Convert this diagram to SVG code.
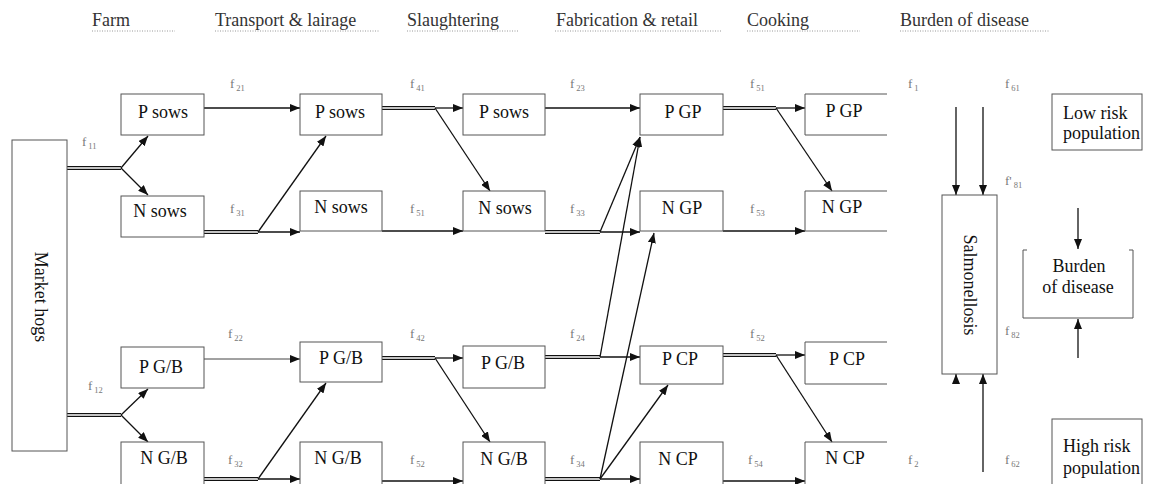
<svg xmlns="http://www.w3.org/2000/svg" width="1157" height="484" viewBox="0 0 1157 484">
  <style>
    .box { fill: #fff; stroke: #555; stroke-width: 1; }
    .open { fill: none; stroke: #555; stroke-width: 1; }
    .t { font-family: "Liberation Serif", "Times New Roman", serif; font-size: 18px; fill: #111; }
    .c { text-anchor: middle; }
    .hdr { font-family: "Liberation Serif", "Times New Roman", serif; font-size: 18px; fill: #333; }
    .rule { stroke: #999; stroke-width: 1; stroke-dasharray: 1 1.5; }
    .f { font-family: "Liberation Serif", "Times New Roman", serif; font-size: 13px; fill: #777; }
    .s { font-size: 8.5px; }
    .arr { fill: none; stroke: #111; stroke-width: 1.3; marker-end: url(#ah); }
    .dbl { fill: none; stroke: #111; stroke-width: 4.2; }
    .dblw { fill: none; stroke: #fff; stroke-width: 1.4; }
  </style>
  <defs>
    <marker id="ah" markerUnits="userSpaceOnUse" markerWidth="10" markerHeight="8" refX="10" refY="4" orient="auto">
      <path d="M0,0 L10,4 L0,8 z" fill="#111"/>
    </marker>
  </defs>
  <rect width="1157" height="484" fill="#fff"/>

  <!-- stage headers -->
  <g id="headers">
    <text class="hdr" x="92" y="26">Farm</text>
    <line class="rule" x1="92" y1="31" x2="175" y2="31"/>
    <text class="hdr" x="215" y="26">Transport &amp; lairage</text>
    <line class="rule" x1="215" y1="31" x2="380" y2="31"/>
    <text class="hdr" x="407" y="26">Slaughtering</text>
    <line class="rule" x1="407" y1="31" x2="518" y2="31"/>
    <text class="hdr" x="556" y="26">Fabrication &amp; retail</text>
    <line class="rule" x1="555" y1="31" x2="722" y2="31"/>
    <text class="hdr" x="747" y="26">Cooking</text>
    <line class="rule" x1="747" y1="31" x2="860" y2="31"/>
    <text class="hdr" x="900" y="26">Burden of disease</text>
    <line class="rule" x1="900" y1="31" x2="1050" y2="31"/>
  </g>

  <!-- connectors -->
  <g id="connectors">
    <!-- double-line trunks: black body, white core -->
    <g class="dbl">
      <path d="M67,168 H121 M67,415 H121"/>
      <path d="M204,232 H258 M204,479 H258"/>
      <path d="M382,108 H435 M382,358 H435"/>
      <path d="M545,232 H600 M545,357 H600 M545,479 H600"/>
      <path d="M723,108 H776 M723,355 H776"/>
    </g>
    <g class="dblw">
      <path d="M67,168 H121 M67,415 H121"/>
      <path d="M204,232 H258 M204,479 H258"/>
      <path d="M382,108 H435 M382,358 H435"/>
      <path d="M545,232 H600 M545,357 H600 M545,479 H600"/>
      <path d="M723,108 H776 M723,355 H776"/>
    </g>

    <!-- farm -->
    <line class="arr" x1="121" y1="168" x2="148" y2="136"/>
    <line class="arr" x1="121" y1="168" x2="148" y2="195"/>
    <line class="arr" x1="121" y1="415" x2="148" y2="389"/>
    <line class="arr" x1="121" y1="415" x2="148" y2="442"/>

    <!-- transport & lairage -->
    <line class="arr" x1="204" y1="108" x2="300" y2="108"/>
    <line class="arr" x1="258" y1="232" x2="300" y2="232"/>
    <line class="arr" x1="258" y1="232" x2="326" y2="136"/>
    <line class="arr" x1="204" y1="359" x2="300" y2="359" style="stroke:#444;stroke-width:1"/>
    <line class="arr" x1="258" y1="479" x2="300" y2="479"/>
    <line class="arr" x1="258" y1="479" x2="326" y2="383"/>

    <!-- slaughtering -->
    <line class="arr" x1="435" y1="108" x2="463" y2="108"/>
    <line class="arr" x1="435" y1="108" x2="490" y2="191"/>
    <line class="arr" x1="382" y1="231" x2="463" y2="231"/>
    <line class="arr" x1="435" y1="358" x2="463" y2="358"/>
    <line class="arr" x1="435" y1="358" x2="490" y2="442"/>
    <line class="arr" x1="382" y1="481" x2="463" y2="481"/>

    <!-- fabrication & retail -->
    <line class="arr" x1="545" y1="108" x2="640" y2="108"/>
    <line class="arr" x1="600" y1="232" x2="640" y2="232"/>
    <line class="arr" x1="600" y1="232" x2="640" y2="137"/>
    <line class="arr" x1="600" y1="357" x2="640" y2="357"/>
    <line class="arr" x1="600" y1="357" x2="640" y2="137"/>
    <line class="arr" x1="600" y1="479" x2="640" y2="479"/>
    <line class="arr" x1="600" y1="479" x2="654" y2="233"/>
    <line class="arr" x1="600" y1="479" x2="668" y2="385"/>

    <!-- cooking -->
    <line class="arr" x1="776" y1="108" x2="805" y2="108"/>
    <line class="arr" x1="776" y1="108" x2="832" y2="191"/>
    <line class="arr" x1="723" y1="231" x2="805" y2="231"/>
    <line class="arr" x1="776" y1="355" x2="805" y2="355"/>
    <line class="arr" x1="776" y1="355" x2="832" y2="442"/>
    <line class="arr" x1="723" y1="481" x2="805" y2="481"/>

    <!-- burden of disease -->
    <line class="arr" x1="956" y1="107" x2="956" y2="195"/>
    <line class="arr" x1="983" y1="107" x2="983" y2="195"/>
    <line class="arr" x1="983" y1="472" x2="983" y2="374"/>
    <line class="arr" x1="956" y1="383" x2="956" y2="374"/>
    <line class="arr" x1="1078" y1="208" x2="1078" y2="249"/>
    <line class="arr" x1="1078" y1="358" x2="1078" y2="319"/>
  </g>

  <!-- transition labels -->
  <g id="rates" class="f">
    <text x="82" y="146">f<tspan class="s" dx="2" dy="3">11</tspan></text>
    <text x="88" y="390">f<tspan class="s" dx="2" dy="3">12</tspan></text>

    <text x="230" y="88">f<tspan class="s" dx="2" dy="3">21</tspan></text>
    <text x="230" y="213">f<tspan class="s" dx="2" dy="3">31</tspan></text>
    <text x="228" y="338">f<tspan class="s" dx="2" dy="3">22</tspan></text>
    <text x="228" y="464">f<tspan class="s" dx="2" dy="3">32</tspan></text>

    <text x="410" y="88">f<tspan class="s" dx="2" dy="3">41</tspan></text>
    <text x="410" y="213">f<tspan class="s" dx="2" dy="3">51</tspan></text>
    <text x="410" y="338">f<tspan class="s" dx="2" dy="3">42</tspan></text>
    <text x="410" y="464">f<tspan class="s" dx="2" dy="3">52</tspan></text>

    <text x="570" y="88">f<tspan class="s" dx="2" dy="3">23</tspan></text>
    <text x="570" y="213">f<tspan class="s" dx="2" dy="3">33</tspan></text>
    <text x="570" y="338">f<tspan class="s" dx="2" dy="3">24</tspan></text>
    <text x="570" y="464">f<tspan class="s" dx="2" dy="3">34</tspan></text>

    <text x="750" y="88">f<tspan class="s" dx="2" dy="3">51</tspan></text>
    <text x="750" y="213">f<tspan class="s" dx="2" dy="3">53</tspan></text>
    <text x="750" y="338">f<tspan class="s" dx="2" dy="3">52</tspan></text>
    <text x="748" y="464">f<tspan class="s" dx="2" dy="3">54</tspan></text>

    <text x="908" y="88">f<tspan class="s" dx="2" dy="3">1</tspan></text>
    <text x="1005" y="88">f<tspan class="s" dx="2" dy="3">61</tspan></text>
    <text x="1005" y="185">f'<tspan class="s" dx="2" dy="3">81</tspan></text>
    <text x="1005" y="335">f<tspan class="s" dx="2" dy="3">82</tspan></text>
    <text x="908" y="464">f<tspan class="s" dx="2" dy="3">2</tspan></text>
    <text x="1005" y="464">f<tspan class="s" dx="2" dy="3">62</tspan></text>
  </g>

  <!-- farm -->
  <g id="market-hogs">
    <rect class="box" x="12" y="140" width="55" height="311"/>
    <text class="t c" transform="translate(35,297) rotate(90)">Market hogs</text>
  </g>
  <g id="farm-p-sows">
    <rect class="box" x="121" y="94" width="83" height="41"/>
    <text class="t c" x="163" y="118">P sows</text>
  </g>
  <g id="farm-n-sows">
    <rect class="box" x="121" y="196" width="83" height="41"/>
    <text class="t c" x="160" y="217">N sows</text>
  </g>
  <g id="farm-p-gb">
    <rect class="box" x="121" y="347" width="83" height="41"/>
    <text class="t c" x="161" y="373">P G/B</text>
  </g>
  <g id="farm-n-gb">
    <rect class="box" x="121" y="442" width="83" height="50"/>
    <text class="t c" x="164" y="464">N G/B</text>
  </g>

  <!-- transport & lairage -->
  <g id="transport-p-sows">
    <rect class="box" x="300" y="94" width="82" height="41"/>
    <text class="t c" x="340" y="118">P sows</text>
  </g>
  <g id="transport-n-sows">
    <rect class="box" x="300" y="191" width="82" height="40"/>
    <text class="t c" x="341" y="213">N sows</text>
  </g>
  <g id="transport-p-gb">
    <rect class="box" x="300" y="342" width="82" height="40"/>
    <text class="t c" x="341" y="364">P G/B</text>
  </g>
  <g id="transport-n-gb">
    <rect class="box" x="300" y="442" width="82" height="50"/>
    <text class="t c" x="338" y="464">N G/B</text>
  </g>

  <!-- slaughtering -->
  <g id="slaughter-p-sows">
    <rect class="box" x="463" y="94" width="82" height="41"/>
    <text class="t c" x="504" y="118">P sows</text>
  </g>
  <g id="slaughter-n-sows">
    <rect class="box" x="463" y="191" width="82" height="40"/>
    <text class="t c" x="505" y="214">N sows</text>
  </g>
  <g id="slaughter-p-gb">
    <rect class="box" x="463" y="346" width="82" height="42"/>
    <text class="t c" x="503" y="369">P G/B</text>
  </g>
  <g id="slaughter-n-gb">
    <rect class="box" x="463" y="442" width="82" height="50"/>
    <text class="t c" x="504" y="465">N G/B</text>
  </g>

  <!-- fabrication & retail -->
  <g id="retail-p-gp">
    <rect class="box" x="640" y="94" width="83" height="41"/>
    <text class="t c" x="683" y="118">P GP</text>
  </g>
  <g id="retail-n-gp">
    <rect class="box" x="640" y="191" width="83" height="40"/>
    <text class="t c" x="682" y="214">N GP</text>
  </g>
  <g id="retail-p-cp">
    <rect class="box" x="640" y="346" width="83" height="38"/>
    <text class="t c" x="680" y="365">P CP</text>
  </g>
  <g id="retail-n-cp">
    <rect class="box" x="640" y="442" width="83" height="50"/>
    <text class="t c" x="678" y="465">N CP</text>
  </g>

  <!-- cooking: boxes open on the right -->
  <g id="cook-p-gp">
    <path class="open" d="M887,94 H805 V135 H887"/>
    <text class="t c" x="844" y="117">P GP</text>
  </g>
  <g id="cook-n-gp">
    <path class="open" d="M887,191 H805 V231 H887"/>
    <text class="t c" x="842" y="213">N GP</text>
  </g>
  <g id="cook-p-cp">
    <path class="open" d="M887,342 H805 V384 H887"/>
    <text class="t c" x="847" y="365">P CP</text>
  </g>
  <g id="cook-n-cp">
    <path class="open" d="M887,442 H805 V492"/>
    <text class="t c" x="845" y="464">N CP</text>
  </g>

  <!-- burden of disease -->
  <g id="salmonellosis">
    <rect class="box" x="942" y="195" width="55" height="179"/>
    <text class="t c" transform="translate(964,285) rotate(90)">Salmonellosis</text>
  </g>
  <g id="low-risk">
    <rect class="box" x="1052" y="94" width="90" height="56"/>
    <text class="t" x="1063" y="119">Low risk</text>
    <text class="t" x="1063" y="139">population</text>
  </g>
  <g id="burden">
    <path class="open" d="M1023,250 V318 H1133 V250 M1023,250 H1027 M1133,250 H1129"/>
    <text class="t c" x="1079" y="272">Burden</text>
    <text class="t c" x="1078" y="293">of disease</text>
  </g>
  <g id="high-risk">
    <rect class="box" x="1052" y="419" width="90" height="73"/>
    <text class="t" x="1063" y="452">High risk</text>
    <text class="t" x="1063" y="474">population</text>
  </g>
</svg>
